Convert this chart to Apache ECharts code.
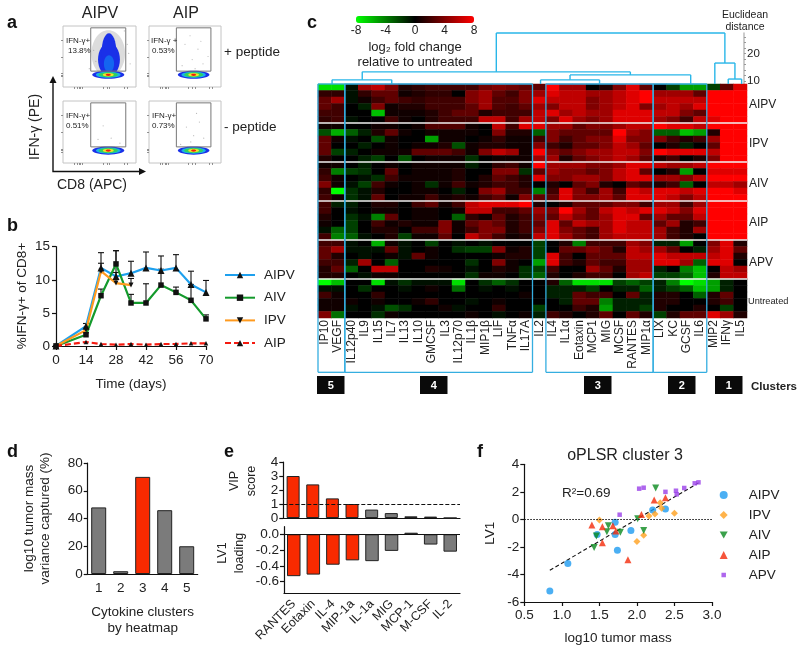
<!DOCTYPE html>
<html><head><meta charset="utf-8">
<style>html,body{margin:0;padding:0;background:#fff}#c{width:800px;height:652px}</style>
<script src="https://cdn.jsdelivr.net/npm/echarts@6/dist/echarts.min.js"></script>
</head><body><div id="c"></div>
<script>
const F='"Liberation Sans",Arial,sans-serif', INK='#222';
// ---------- panel b
const days=[0,14,21,28,35,42,49,56,63,70];
const bAIPV=[0,3,11.8,10.5,11,11.8,11.4,11.8,9.3,8.1];
const bAIPVerr=[0,.4,2.3,3.9,1.8,2.4,2.2,2,2,1.8];
const bAIV=[0,1.7,7.6,12.4,6.5,6.5,9.2,8.1,6.9,4.1];
const bAIVerr=[0,.3,1,2,1.3,2.9,2.4,.8,2.4,.6];
const bIPV=[0,2.4,11.3,9.5,9.2];
const bIPVerr=[0,.4,1.2,1.6,1];
const bAIP=[0,.6,.3,.2,.3,.2,.3,.3,.4,.4];
// ---------- panel c
const cytokines=['IP10','VEGF','IL12p40','IL9','IL15','IL7','IL13','IL10','GMCSF','IL3','IL12p70','IL1β','MIP1β','LIF','TNFα','IL17A','IL2','IL4','IL1α','Eotaxin','MCP1','MIG','MCSF','RANTES','MIP1α','LIX','KC','GCSF','IL6','MIP2','IFNγ','IL5'];
const groupNames=['AIPV','IPV','AIV','AIP','APV','Untreated'];
const heatAIPV=[
[-7,-7,-.5,5,6,4,1,1.5,2,2,2,2,3.5,4,3.5,3,3,8,5,5,0,1,4,7,3,0,-2,-5,-5,-2,3,7],
[1.5,1.5,-.5,1.5,3,3,.5,1,1.5,1.5,0,4,5,3,2,4,5,7,6,6,5,5,6,7,8,5,5,5,3,8,8,8],
[3,5,-.5,.5,2,3,2,1.5,2,2,2,4,5,2.5,2.5,4,7,6,6,6,4,5,6,7,8,6,6,6,6,8,8,8],
[3,2,0,-1,4,.5,1,1,2,2,2,3,5,2.5,2,3,5,4,6,6,4,5,6,7,4,5,6,5,7,8,8,8],
[2,2,0,0,-6,.5,.5,.5,1,2,3,3,1,2,2,2,6,7,5,6,5,5,7,7,7,6,6,4,3,8,8,8],
[1.5,2,-.5,0,0,2,.5,0,1,2,2,2,6,6,2,5,6,4,7,5,4,5,7,7,7,5,4,2,6,7,8,8]];
const heatIPV=[
[.5,.5,0,0,.5,.5,0,.5,2.5,2.5,2.5,.5,0,6,2,7,7,5,5,3,4,4,5,6,6,8,7,7,6,8,8,8],
[-2.5,-5.5,-3,-1,1,3,.5,0,.5,.5,.5,.5,0,4,1,1,-3,4,3,3,3,3,8,5,4,-3,-3,-6,-5,1,8,8],
[3,.5,-.5,0,-2.5,.5,0,0,-5,.5,.5,0,.5,1.5,.5,.5,2,4,2,3,4,4,7,4,4,4,2,1,2,5,8,8],
[3,0,0,-1,0,.5,0,.5,.5,1,-2.5,.5,1,1,.5,.5,4,2,1,3,3,4,6,5,3,0,1,-1,0,3,8,8],
[3,-2,-1,0,.5,.5,.5,3,3,3,2,.5,4,6,5,.5,8,4,3,4,5,5,6,6,4,8,7,7,7,6,8,8],
[1,0,0,-1,-2,0,-2.5,0,.5,.5,.5,-1.5,0,.5,.5,.5,5,5,1,3,4,5,6,5,3,1,2,0,1,4,8,8]];
const heatAIV=[
[.5,.5,0,-1,0,.5,0,.5,.5,.5,.5,-1,0,1.5,2,.5,8,5,5,5,4,4,5,7,7,6,5,5,6,8,8,8],
[1.5,-4,-2,-1.5,0,3,0,.5,.5,.5,1,0,0,4,4,-1.5,3,5,4,4,3,4,6,7,3,0,1,-5,0,7,7,7],
[2,.5,0,-.5,-1.5,2,.5,.5,.5,.5,1,0,1,3,2,1,7,4,4,5,5,4,6,7,7,5,5,4,6,8,8,8],
[4,.5,-.5,-2,2,.5,0,.5,-1.5,.5,2,.5,1,2,2,1,0,1,0,3,4,1,0,3,2,1,2,-3,0,6,6,5],
[1.5,-8,-1.5,-.5,1,0,0,.5,.5,0,-1,0,4,5,2,2,-4,2,7,4,2,5,2,7,6,7,7,6,7,8,8,7],
[2,.5,-1.5,-.5,3,0,.5,.5,2,.5,1,.5,2,3,.5,4,3,3,7,4,4,5,3,7,7,7,6,4,6,8,8,8]];
const heatAIP=[
[2,-1,-1,0,1,1,0,2,3,.5,2,6,7,7,7,8,1,0,1,3,3,3,4,4,2,5,5,2,5,8,8,8],
[2,0,-.5,0,.5,.5,0,.5,.5,0,.5,6,6,2,2,3,5,4,8,5,3,6,7,6,7,7,6,4,7,8,8,8],
[1,0,-1.5,-.5,-4,3,0,.5,.5,0,-3,1.5,.5,3,1,2,4,3,6,4,3,5,7,7,3,5,3,3,6,8,8,8],
[.5,0,-2,0,2,.5,1,.5,.5,4,.5,3,4,3,1,2,3,7,3,6,5,5,7,6,6,3,5,1,2,8,8,8],
[-.5,-3,-2,0,1,1,0,2,2,4,.5,2,4,4,1,2,4,7,4,3,2,5,7,6,6,5,2,1,5,8,8,8],
[2,-4,-3,-.5,0,1,-2,.5,.5,3,0,6,4,2,.5,1,6,7,5,3,2,5,6,6,6,5,2,1,0,8,8,8]];
const heatAPV=[
[2,2,-.5,0,-5.5,.5,-.5,0,-2,0,-.5,0,-.5,0,0,0,-2,0,1,-4,2,2,2,5,4,-1,-1,-5,0,4,7,1],
[3,5,-.5,-.5,-.5,3,-.5,0,.5,0,-1.5,-2,-2,4,.5,1,-2,0,3,3,4,3,1,6,5,5,3,0,-1,5,7,3],
[3,1,0,-.5,0,.5,-.5,3,.5,0,0,0,0,.5,1,1,-2,7,2,0,3,3,3,6,6,7,6,6,6,6,7,1],
[2,2,-1,5,0,-3,0,0,0,0,0,-1.5,0,4,.5,0,-5,7,2,1,3,2,2,5,5,7,7,5,-3,7,7,0],
[1,3,-3,0,6,6,0,0,1,.5,0,-.5,0,1,.5,-1.5,-2,2,0,0,5,3,1,5,5,-1,0,-4,-6,0,6,5],
[1,1,0,-.5,.5,.5,0,0,0,0,0,-1.5,.5,.5,0,-1.5,-3,1,0,1,2,2,0,5,6,-2,-2,-3,-6,1,6,6]];
const heatUntreated=[
[-8,-6,0,0,-7,-.5,-1.5,-.5,-.5,-.5,-7,0,-1.5,-3,-1.5,0,0,1,-3,-7,-7,-7,-2,-3,-2,-1,-4,-8,-7,-5,-1,0],
[-.5,-.5,0,-1.5,0,0,-.5,0,.5,0,-3.5,0,-.5,0,-.5,0,0,-1,-1,-1,-2,0,-1,-1,-3,-1,-2,-3,-6,-5,-1,0],
[2,.5,0,0,1.5,0,0,0,0,0,0,0,0,0,0,.5,0,-1,-1,3,2,2,0,3,-1,1,1,0,-3,1,3,0],
[.5,.5,.5,0,.5,0,0,.5,1.5,0,0,-.5,0,.5,0,0,0,0,-1,3,3,-4,-1,-1,-1,1,1,0,0,1,2,0],
[.5,.5,-.5,0,-.5,-2.5,-1.5,0,0,.5,-.5,0,0,1.5,0,0,-2,0,0,2,1,-5,-1,-1,-2,1,0,0,1,0,-2,0],
[4,-3.5,0,0,-1.5,.5,0,0,0,0,0,.5,0,-.5,0,.5,-1,2,1,0,1,3,0,3,1,-2,1,3,3,7,5,1]];
const heatRows=[...heatAIPV,...heatIPV,...heatAIV,...heatAIP,...heatAPV,...heatUntreated];
// dendrogram segments: column position, distance
const dendroLinks=[
[13.3,27.4,30.35,27.4],[13.3,27.4,13.3,13.3],[30.35,27.4,30.35,16.5],
[3.3,13.3,23.3,13.3],[3.3,13.3,3.3,10.4],[23.3,13.3,23.3,12.2],
[1.05,10.4,5.5,10.4],[1.05,10.4,1.05,8.9],[5.5,10.4,5.5,8.9],
[18.8,12.2,27.8,12.2],[27.8,12.2,27.8,8.9],[18.8,12.2,18.8,10.4],
[16.6,10.4,21,10.4],[16.6,10.4,16.6,8.9],[21,10.4,21,8.9],
[29.6,16.5,31.1,16.5],[29.6,16.5,29.6,8.9],[31.1,16.5,31.1,10.7],
[30.6,10.7,31.6,10.7],[30.6,10.7,30.6,8.9],[31.6,10.7,31.6,8.9]];
const clusterEdges=[[0,2],[2,16],[17,25],[25,29]];
const clusterChips=[['5',317],['4',420],['3',584],['2',668],['1',715]];
// ---------- panel d
const dClusters=['1','2','3','4','5'];
const dValues=[48,2,70,46,20];
// ---------- panel e
const eCytokines=['RANTES','Eotaxin','IL-4','MIP-1a','IL-1a','MIG','MCP-1','M-CSF','IL-2'];
const eVIP=[3.0,2.4,1.4,1.0,.6,.35,.12,.1,0];
const eLoading=[-.53,-.51,-.385,-.33,-.34,-.21,.02,-.13,-.22];
// ---------- panel f
const fAIPV=[[.84,-5.2],[1.08,-3.2],[1.47,-1.1],[1.71,-1.1],[1.71,-.2],[1.74,-2.25],[1.92,-.8],[2.21,.68],[2.38,.75]];
const fIPV=[[1.5,-.05],[2,-1.6],[2.09,-1.16],[2.16,.24],[2.24,.39],[2.31,1.2],[2.33,.8],[2.5,.44]];
const fAIV=[[1.43,-2.05],[1.46,-1.2],[1.6,-.9],[1.62,-.46],[1.78,-.94],[2.01,.05],[2.09,-.8],[2.25,2.28]];
const fAIP=[[1.4,-.4],[1.54,-.53],[1.54,-1.7],[1.68,-.46],[1.72,-.85],[1.88,-2.93],[2.06,.36],[2.23,1.4],[2.38,1.57]];
const fAPV=[[1.77,.34],[2.03,2.23],[2.09,2.3],[2.38,2],[2.52,2.08],[2.53,1.82],[2.63,2.28],[2.77,2.62],[2.82,2.69]];
const fFit=[[.84,-3.7],[2.82,2.65]];
// ---------- panel a: flow density clouds as [CD8, IFN, spreadX, spreadY, level]
const flowColors=['#dcdcdc','#1a30e8','#1466f0','#18b4e4','#30d060','#f0e428','#f01c10'];
const cloudBase=[[62,20,22,6.5,1],[62,20,17,5,3],[62,20,13,4,4],[62,20,7.5,2.8,5],[62,20,3.5,1.8,6]];
const cloudResponse=[[62,55,23,38,0],[63,45,15,27,1],[63,58,10,30,1],[63,38,7,14,2]];
const dotsAIPVplus=[[42,60],[45,42],[88,70],[90,55],[84,92],[36,30],[92,38]];
const dotsAIPplus=[[50,70],[60,45],[68,62],[75,38],[57,84],[82,50],[46,35],[64,30],[72,75]];
const dotsAIPVminus=[[55,60],[66,40],[48,38],[78,32]];
const dotsAIPminus=[[52,58],[62,44],[70,66],[58,34],[76,40],[44,30],[66,80]];
const gateRect=[[38,97,86,97],[86,97,86,26],[86,26,38,26],[38,26,38,97]];
const panelA=[
 {left:63,top:26,w:73,h:61,cloud:[...cloudResponse,...cloudBase],dots:dotsAIPVplus},
 {left:149,top:26,w:72,h:61,cloud:cloudBase,dots:dotsAIPplus},
 {left:63,top:101,w:73,h:62,cloud:cloudBase,dots:dotsAIPVminus},
 {left:149,top:101,w:72,h:62,cloud:cloudBase,dots:dotsAIPminus}];

const T=(text,x,y,size,o={})=>({type:'text',x,y,rotation:o.rot||0,silent:true,z:50,style:{text,fontFamily:F,fontSize:size,fontWeight:o.w||'normal',fill:o.c||INK,align:o.a||'left',textAlign:o.a||'left',verticalAlign:'middle',textVerticalAlign:'middle',lineHeight:o.lh}});
const segSeries=(xi,yi,data,color,width,z)=>({type:'custom',xAxisIndex:xi,yAxisIndex:yi,data,silent:true,z:z||5,clip:false,
 renderItem:(p,api)=>{const a=api.coord([api.value(0),api.value(1)]),b=api.coord([api.value(2),api.value(3)]);
  return {type:'line',shape:{x1:a[0],y1:a[1],x2:b[0],y2:b[1]},style:{stroke:color,lineWidth:width,fill:null}};}});
const axText={fontFamily:F,color:INK,fontSize:13.5};
const blk={lineStyle:{color:'#111',width:1.2}};

const grid=[],xAxis=[],yAxis=[],series=[];
const addGrid=(g,x,y)=>{grid.push(g);xAxis.push(Object.assign({gridIndex:grid.length-1},x));yAxis.push(Object.assign({gridIndex:grid.length-1},y));return grid.length-1;};

// panel a
panelA.forEach(p=>{
 const i=addGrid({left:p.left,top:p.top,width:p.w,height:p.h,show:true,borderColor:'#c4c4c4',borderWidth:1},
  {type:'value',min:0,max:100,splitLine:{show:false},axisLine:{show:false},axisLabel:{show:false},axisTick:{show:true,length:2,customValues:[16,19,22,24,27,55,60,64,84,88],lineStyle:{color:'#666',width:.7}}},
  {type:'value',min:0,max:100,splitLine:{show:false},axisLine:{show:false},axisLabel:{show:false},axisTick:{show:true,length:2,customValues:[20,22,18,49,77],lineStyle:{color:'#666',width:.7}}});
 series.push({type:'custom',xAxisIndex:i,yAxisIndex:i,data:p.cloud,silent:true,z:2,
  renderItem:(q,api)=>{const c=api.coord([api.value(0),api.value(1)]),s=api.size([api.value(2),api.value(3)]);
   return {type:'ellipse',shape:{cx:c[0],cy:c[1],rx:s[0],ry:s[1]},style:{fill:flowColors[api.value(4)]}};}});
 series.push({type:'scatter',xAxisIndex:i,yAxisIndex:i,data:p.dots,symbolSize:1.2,silent:true,itemStyle:{color:'#aaa'},z:2});
 series.push(segSeries(i,i,gateRect,'#777',1,3));
});

// panel b
const bG=addGrid({left:56,top:246.7,width:150,height:99.3},
 {type:'value',min:0,max:70,interval:14,splitLine:{show:false},axisLine:{onZero:false,...blk},axisTick:{length:4,...blk},axisLabel:{...axText,fontSize:13.5,margin:7}},
 {type:'value',min:0,max:15,interval:5,splitLine:{show:false},axisLine:{show:true,...blk},axisTick:{show:true,length:4,...blk},axisLabel:{...axText,fontSize:13.5,margin:6}});
const errData=(d,e,x)=>d.map((v,i)=>[x[i],v,e[i]]);
const errSeries=(data)=>({type:'custom',xAxisIndex:bG,yAxisIndex:bG,data,silent:true,z:3,
 renderItem:(p,api)=>{const a=api.coord([api.value(0),api.value(1)]),b=api.coord([api.value(0),api.value(1)+api.value(2)]);
  return {type:'group',children:[{type:'line',shape:{x1:a[0],y1:a[1],x2:b[0],y2:b[1]},style:{stroke:'#111',lineWidth:1.1}},
   {type:'line',shape:{x1:b[0]-3,y1:b[1],x2:b[0]+3,y2:b[1]},style:{stroke:'#111',lineWidth:1.1}}]};}});
const bLine=(name,y,color,sym,size,dash,dd)=>({name,type:'line',xAxisIndex:bG,yAxisIndex:bG,data:(dd||days).map((d,i)=>[d,y[i]]),symbol:sym.s,symbolRotate:sym.r||0,symbolSize:size,
 lineStyle:{color,width:2.2,type:dash||'solid'},itemStyle:{color:'#111'},z:4,silent:true});
series.push(errSeries(errData(bAIV,bAIVerr,days)),errSeries(errData(bIPV,bIPVerr,days.slice(0,5))),errSeries(errData(bAIPV,bAIPVerr,days)));
series.push(bLine('AIPV',bAIPV,'#1ea0ee',{s:'triangle'},7),bLine('AIV',bAIV,'#149a2c',{s:'rect'},5.5),bLine('IPV',bIPV,'#ff9a1e',{s:'triangle',r:180},5,null,days.slice(0,5)),bLine('AIP',bAIP,'#f41a10',{s:'triangle'},4.5,[6,3]));

// panel c heatmap
const heatData=[];heatRows.forEach((r,i)=>r.forEach((v,j)=>heatData.push([j,i,v])));
const hG=addGrid({left:318,top:84,width:429,height:234},
 {type:'category',data:cytokines,splitArea:{show:false},axisLine:{show:false},axisTick:{show:false},axisLabel:{fontFamily:F,color:INK,fontSize:12,rotate:90,interval:0,margin:2}},
 {type:'category',data:heatRows.map((_,i)=>groupNames[Math.floor(i/6)]+' '+(i%6+1)),inverse:true,axisLine:{show:false},axisTick:{show:false},axisLabel:{show:false}});
const heatSeriesIndex=series.length;
series.push({type:'heatmap',xAxisIndex:hG,yAxisIndex:hG,data:heatData,silent:true,progressive:0,emphasis:{disabled:true},z:2});
// overlay in column/row units
const oG=addGrid({left:318,top:84,width:429,height:288.3},
 {type:'value',min:0,max:32,show:false},{type:'value',min:0,max:44.35,inverse:true,show:false});
const sep=[6,12,18,24,30].map(r=>[0,r,32,r]);
series.push(segSeries(oG,oG,sep,'#f2f2f2',1.6,6));
const boxes=[];clusterEdges.forEach(e=>{boxes.push([e[0],0,e[1],0],[e[1],0,e[1],44.35],[e[1],44.35,e[0],44.35],[e[0],44.35,e[0],0]);});
series.push(segSeries(oG,oG,boxes,'#35aee0',1.3,7));
// dendrogram
const dG=addGrid({left:318,top:33,width:429,height:51},
 {type:'value',min:0,max:32,show:false},
 {type:'value',min:8.9,max:27.4,position:'right',offset:-3,splitLine:{show:false},axisLine:{show:true,onZero:false,lineStyle:{color:'#bbb',width:1.5}},
  axisTick:{show:true,length:2,customValues:[10,12,14,16,18,20,22,24,26],lineStyle:{color:'#999'}},
  axisLabel:{customValues:[10,20],fontFamily:F,color:INK,fontSize:11.5,margin:3,show:true}});
series.push(segSeries(dG,dG,dendroLinks,'#29b6e8',1.4,6));
// colour-bar tick labels
addGrid({left:356,top:16,width:118,height:7},
 {type:'value',min:-8,max:8,interval:4,splitLine:{show:false},axisLine:{show:false},axisTick:{show:false},axisLabel:{fontFamily:F,color:INK,fontSize:12,margin:2,showMinLabel:true,showMaxLabel:true}},
 {type:'value',min:0,max:1,show:false});

// panel d
const barStyle=(red)=>({color:red?'#f92a00':'#7b7b7b',borderColor:'#222',borderWidth:1});
const dG2=addGrid({left:87.7,top:463,width:110,height:111},
 {type:'category',data:dClusters,name:'Cytokine clusters\nby heatmap',nameLocation:'middle',nameGap:30,nameTextStyle:{...axText,lineHeight:16},axisLine:{...blk},axisTick:{alignWithLabel:true,length:4,...blk},axisLabel:{...axText,margin:7}},
 {type:'value',min:0,max:80,interval:20,name:'log10 tumor mass\nvariance captured (%)',nameLocation:'middle',nameRotate:90,nameGap:35,nameTextStyle:{...axText,lineHeight:15.5},splitLine:{show:false},axisLine:{show:true,...blk},axisTick:{show:true,length:4,...blk},axisLabel:{...axText,margin:5}});
series.push({type:'bar',xAxisIndex:dG2,yAxisIndex:dG2,barWidth:15,silent:true,data:dValues.map((v,i)=>({value:v,itemStyle:barStyle(dClusters[i]==='3')}))});

// panel e
const eTop=addGrid({left:283.3,top:462,width:176.7,height:56},
 {type:'category',data:eCytokines,axisLine:{...blk},axisTick:{alignWithLabel:true,length:5,...blk},axisLabel:{show:false}},
 {type:'value',min:0,max:4,interval:1,splitLine:{show:false},axisLine:{show:true,...blk},axisTick:{show:true,length:4,...blk},axisLabel:{...axText,margin:5}});
series.push({type:'bar',xAxisIndex:eTop,yAxisIndex:eTop,barWidth:13,silent:true,data:eVIP.map((v,i)=>({value:v,itemStyle:barStyle(i<4)})),
 markLine:{silent:true,symbol:'none',label:{show:false},lineStyle:{color:'#111',type:[4,2],width:1},data:[{yAxis:1}]}});
const eBot=addGrid({left:284,top:526.7,width:176,height:66.3},
 {type:'category',data:eCytokines,axisLine:{onZero:false,...blk},axisTick:{alignWithLabel:true,length:5,...blk},axisLabel:{...axText,fontSize:12.5,rotate:45,interval:0,margin:9}},
 {type:'value',min:-.743,max:.096,splitLine:{show:false},axisLine:{show:true,...blk},axisTick:{show:true,length:4,customValues:[-.6,-.4,-.2,0],...blk},axisLabel:{...axText,margin:5,customValues:[-.6,-.4,-.2,0],formatter:v=>v.toFixed(1)}});
series.push({type:'bar',xAxisIndex:eBot,yAxisIndex:eBot,barWidth:13.5,silent:true,data:eLoading.map((v,i)=>({value:v,itemStyle:barStyle(i<4)})),
 markLine:{silent:true,symbol:'none',label:{show:false},lineStyle:{color:'#111',type:'solid',width:1.2},data:[{yAxis:0}]}});

// panel f
const fG=addGrid({left:524.3,top:464.3,width:187.7,height:137.7},
 {type:'value',min:.5,max:3,interval:.5,name:'log10 tumor mass',nameLocation:'middle',nameGap:29,nameTextStyle:{...axText},splitLine:{show:false},axisLine:{onZero:false,...blk},axisTick:{length:4,...blk},axisLabel:{...axText,margin:6,formatter:v=>v.toFixed(1),showMinLabel:true,showMaxLabel:true}},
 {type:'value',min:-6,max:4,interval:2,name:'LV1',nameLocation:'middle',nameRotate:90,nameGap:27,nameTextStyle:{...axText},splitLine:{show:false},axisLine:{show:true,onZero:false,...blk},axisTick:{show:true,length:4,...blk},axisLabel:{...axText,margin:5}});
const fScatter=(name,data,symbol,size,color,rot)=>({name,type:'scatter',xAxisIndex:fG,yAxisIndex:fG,data,symbol,symbolSize:size,symbolRotate:rot||0,itemStyle:{color},silent:true,z:4});
series.push(fScatter('AIPV ',fAIPV,'circle',7,'#1e9bf0'),fScatter('IPV ',fIPV,'diamond',7,'#ffa01e'),fScatter('AIV ',fAIV,'triangle',7,'#0a8a1e',180),fScatter('AIP ',fAIP,'triangle',7,'#f42a0a'),fScatter('APV ',fAPV,'rect',4.5,'#9a40e8'));
series.push({type:'line',xAxisIndex:fG,yAxisIndex:fG,data:fFit,symbol:'none',silent:true,lineStyle:{color:'#111',type:[4,2.5],width:1.1},z:3,
 markLine:{silent:true,symbol:'none',label:{show:false},lineStyle:{color:'#111',type:[1.5,1.5],width:1.1},data:[{yAxis:0}]}});

// annotation text
const graphic=[
 T('a',7,23,18,{w:'bold',c:'#111'}),T('b',7,226,18,{w:'bold',c:'#111'}),T('c',307,23,18,{w:'bold',c:'#111'}),
 T('d',7,452,18,{w:'bold',c:'#111'}),T('e',224,452,18,{w:'bold',c:'#111'}),T('f',477,452,18,{w:'bold',c:'#111'}),
 T('AIPV',100,14,16,{a:'center'}),T('AIP',186,14,16,{a:'center'}),
 T('+ peptide',224,52,13.5),T('- peptide',224,127,13.5),
 T('IFN-γ+',66,41,8),T('13.8%',68,50.5,8),T('IFN-γ +',151,41,8),T('0.53%',152,50.5,8),
 T('IFN-γ+',66,116,8),T('0.51%',66,125.5,8),T('IFN-γ+',152,116,8),T('0.73%',152,125.5,8),
 T('IFN-γ (PE)',35,127,14,{a:'center',rot:Math.PI/2}),T('CD8 (APC)',92,185,14,{a:'center'}),
 {type:'polyline',silent:true,z:50,shape:{points:[[53,80],[53,171.5],[140,171.5]]},style:{stroke:'#111',lineWidth:1.4,fill:null}},
 {type:'polygon',silent:true,z:50,shape:{points:[[53,76],[49.5,83],[56.5,83]]},style:{fill:'#111'}},
 {type:'polygon',silent:true,z:50,shape:{points:[[146,171.5],[139,168],[139,175]]},style:{fill:'#111'}},
 T('%IFN-γ+ of CD8+',22,296,13.5,{a:'center',rot:Math.PI/2}),T('Time (days)',131,384,13.5,{a:'center'}),
 T('log₂ fold change',415,47,13,{a:'center'}),T('relative to untreated',415,62,13,{a:'center'}),
 T('Euclidean',745,15,10.5,{a:'center'}),T('distance',745,27,10.5,{a:'center'}),
 T('AIPV',749,105,12),T('IPV',749,144,12),T('AIV',749,184,12),T('AIP',749,223,12),T('APV',749,263,12),T('Untreated',748,301,9.2),
 T('Clusters',751,387,11.5,{w:'bold'}),
 T('VIP',235,481,12.5,{a:'center',rot:Math.PI/2}),T('score',252,481,12.5,{a:'center',rot:Math.PI/2}),
 T('LV1',223,553,12.5,{a:'center',rot:Math.PI/2}),T('loading',240,553,12.5,{a:'center',rot:Math.PI/2}),
 T('oPLSR cluster 3',625,456,16,{a:'center'}),T('R²=0.69',562,493,13.5),
];
clusterChips.forEach(c=>{graphic.push({type:'rect',silent:true,z:49,shape:{x:c[1],y:376,width:27.5,height:18},style:{fill:'#0a0a0a'}});graphic.push(T(c[0],c[1]+13.7,385.5,11,{a:'center',c:'#fff',w:'bold'}));});

const chart=echarts.init(document.getElementById('c'),null,{renderer:'canvas'});
chart.setOption({animation:false,backgroundColor:'#fff',textStyle:{fontFamily:F},
 grid,xAxis,yAxis,series,graphic,
 visualMap:[{type:'continuous',seriesIndex:heatSeriesIndex,min:-8,max:8,calculable:false,orient:'horizontal',left:356,top:16,itemWidth:7,itemHeight:118,padding:0,hoverLink:false,
  inRange:{color:['#00ff00','#000000','#ff0000']},text:null}],
 legend:[
  {data:['AIPV','AIV','IPV','AIP'],orient:'vertical',left:224,top:268,itemWidth:30,itemHeight:8,itemGap:8.7,padding:0,selectedMode:false,textStyle:{fontFamily:F,color:INK,fontSize:13.5,padding:[0,0,0,4]}},
  {data:['AIPV ','IPV ',{name:'AIV ',icon:'path://M0 0L16 0L8 14Z'},{name:'AIP '},{name:'APV ',icon:'path://M0 0L0 0M16 16L16 16M3.5 3.5H12.5V12.5H3.5Z'}],orient:'vertical',left:719.7,top:488,itemWidth:8,itemHeight:8,itemGap:6,padding:0,selectedMode:false,textStyle:{fontFamily:F,color:INK,fontSize:13.5,padding:[0,0,0,16]}}
 ]});
</script></body></html>
